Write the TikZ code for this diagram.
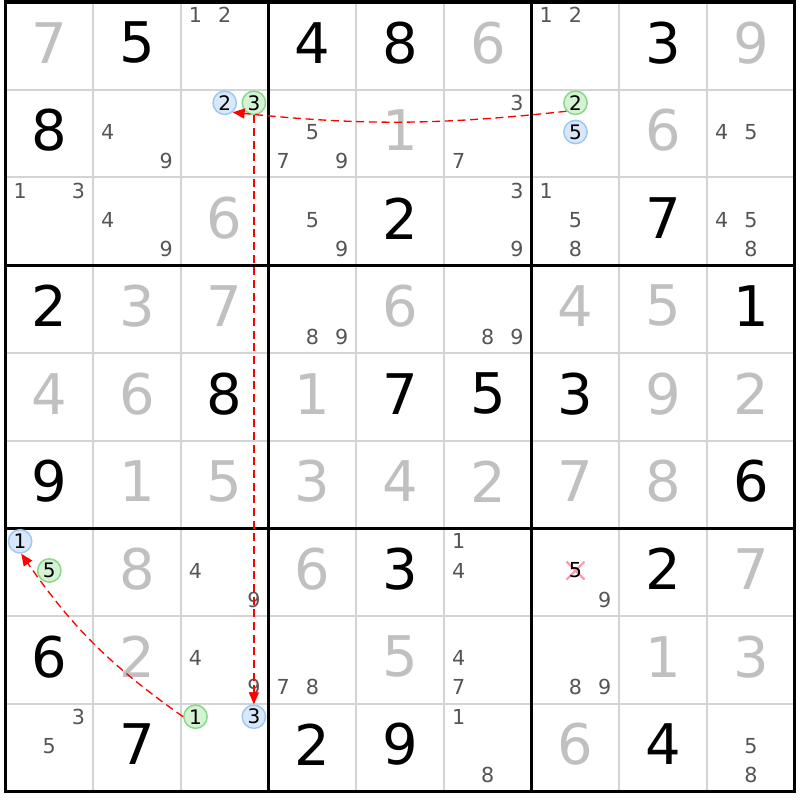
\documentclass[tikz,border=0pt]{standalone}
\usepackage{fontspec}
\setmainfont{DejaVu Sans}
\usetikzlibrary{arrows.meta}
\definecolor{solvedcol}{HTML}{C0C0C0}
\definecolor{candcol}{HTML}{555555}
\definecolor{thincol}{HTML}{D4D4D4}
\definecolor{bluefill}{HTML}{D8E8FA}
\definecolor{bluedraw}{HTML}{9CC8F4}
\definecolor{greenfill}{HTML}{D4F2D4}
\definecolor{greendraw}{HTML}{88D888}
\definecolor{xcol}{HTML}{F4A0AC}
\definecolor{linkcol}{HTML}{FF0000}
\begin{document}
\begin{tikzpicture}[x=0.75pt,y=-0.75pt,
  bigdigit/.style={inner sep=0pt,font=\fontsize{42}{42}\selectfont},
  givendigit/.style={bigdigit,text=black},
  solveddigit/.style={bigdigit,text=solvedcol},
  canddigit/.style={inner sep=0pt,font=\fontsize{15.5}{15.5}\selectfont,text=candcol},
  markcand/.style={circle,inner sep=0pt,minimum size=17.5pt,line width=1.1pt,font=\fontsize{15}{15}\selectfont,text=black},
  bluecand/.style={markcand,draw=bluedraw,fill=bluefill},
  greencand/.style={markcand,draw=greendraw,fill=greenfill},
  elimdigit/.style={inner sep=0pt,font=\fontsize{15.5}{15.5}\selectfont,text=black},
  thinline/.style={draw=thincol,line width=1.5pt},
  thickline/.style={draw=black,line width=2.4pt},
  link/.style={draw=linkcol,line width=1pt,dash pattern=on 6pt off 3.5pt,-{Triangle[length=9pt,width=7.5pt]}}
]
\fill[white] (0,0) rectangle (800,800);
\useasboundingbox (0,0) rectangle (800,800);
% thin lines
\foreach \i in {1,2,4,5,7,8} {
  \draw[thinline] ({5.5+87.7*\i},2) -- ({5.5+87.7*\i},791.3);
  \draw[thinline] (5.5,{2+87.7*\i}) -- (794.8,{2+87.7*\i});
}
% thick lines
\foreach \i in {3,6} {
  \draw[thickline] ({5.5+87.7*\i},2) -- ({5.5+87.7*\i},791.3);
  \draw[thickline] (5.5,{2+87.7*\i}) -- (794.8,{2+87.7*\i});
}
\draw[thickline] (5.5,2) rectangle (794.8,791.3);
% given digits
\foreach \r/\c/\d in {0/1/5,0/3/4,0/4/8,0/7/3,1/0/8,2/4/2,2/7/7,3/0/2,3/8/1,4/2/8,4/4/7,4/5/5,4/6/3,5/0/9,5/8/6,6/4/3,6/7/2,7/0/6,8/1/7,8/3/2,8/4/9,8/7/4}
  \node[givendigit] (g\r\c) at ({5.5+87.7*(\c+0.5)},{2+87.7*(\r+0.5)-3}) {\d};
% solved digits
\foreach \r/\c/\d in {0/0/7,0/5/6,0/8/9,1/4/1,1/7/6,2/2/6,3/1/3,3/2/7,3/4/6,3/6/4,3/7/5,4/0/4,4/1/6,4/3/1,4/7/9,4/8/2,5/1/1,5/2/5,5/3/3,5/4/4,5/5/2,5/6/7,5/7/8,6/1/8,6/3/6,6/8/7,7/1/2,7/4/5,7/7/1,7/8/3,8/6/6}
  \node[solveddigit] (s\r\c) at ({5.5+87.7*(\c+0.5)},{2+87.7*(\r+0.5)-3}) {\d};
% candidates
\foreach \r/\c/\d in {0/2/1,0/2/2,0/6/1,0/6/2,1/1/4,1/1/9,1/3/5,1/3/7,1/3/9,1/5/3,1/5/7,1/8/4,1/8/5,2/0/1,2/0/3,2/1/4,2/1/9,2/3/5,2/3/9,2/5/3,2/5/9,2/6/1,2/6/5,2/6/8,2/8/4,2/8/5,2/8/8,3/3/8,3/3/9,3/5/8,3/5/9,6/2/4,6/2/9,6/5/1,6/5/4,6/6/9,7/2/4,7/2/9,7/3/7,7/3/8,7/5/4,7/5/7,7/6/8,7/6/9,8/0/3,8/0/5,8/5/1,8/5/8,8/8/5,8/8/8}
  \node[canddigit] (n\r\c\d) at ({5.5+87.7*\c+14.6+29.2*mod(\d-1,3)},{2+87.7*\r+13.1+29.2*floor((\d-1)/3)}) {\d};
% marked candidates
\foreach \r/\c/\d in {1/2/2,1/6/5,6/0/1,8/2/3}
  \node[bluecand] (n\r\c\d) at ({5.5+87.7*\c+14.6+29.2*mod(\d-1,3)},{2+87.7*\r+13.1+29.2*floor((\d-1)/3)}) {\d};
\foreach \r/\c/\d in {1/2/3,1/6/2,6/0/5,8/2/1}
  \node[greencand] (n\r\c\d) at ({5.5+87.7*\c+14.6+29.2*mod(\d-1,3)},{2+87.7*\r+13.1+29.2*floor((\d-1)/3)}) {\d};
% eliminated candidate
\coordinate (x665) at ({5.5+87.7*6+14.6+29.2},{2+87.7*6+13.1+29.2});
\draw[xcol,line width=1.6pt] (x665) +(-9,-9) -- +(9,9) +(-9,9) -- +(9,-9);
\node[elimdigit] (n665) at (x665) {5};
% links
\draw[link] (n162.-137) to[bend left=6] (n122.-50);
\draw[link] (n123.south) -- (n823.north);
\draw[link] (n821.west) to[bend left=10] (n601.-85);
\end{tikzpicture}
\end{document}
